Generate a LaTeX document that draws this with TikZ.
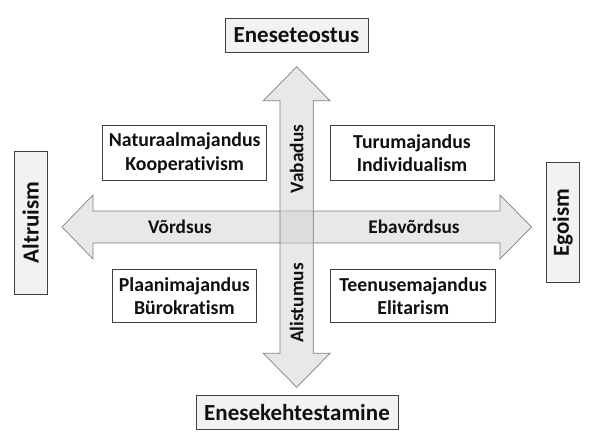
\documentclass[tikz,border=0pt]{standalone}
\usepackage{fontspec}
\setmainfont{Carlito}[Ligatures=NoCommon]
\definecolor{boxbg}{HTML}{F2F2F2}
\definecolor{boxline}{HTML}{404040}
\definecolor{arrfill}{HTML}{E8E8E8}
\definecolor{arrfillv}{HTML}{CFCFCF}
\definecolor{arrline}{HTML}{7F7F7F}
\definecolor{txt}{HTML}{101010}
\begin{document}
\begin{tikzpicture}[x=1pt,y=-1pt,
  outerbox/.style={draw=boxline, line width=0.9pt, fill=boxbg, inner sep=0pt,
    font=\bfseries\fontsize{23}{27}\selectfont, text=txt},
  quadbox/.style={draw=boxline, line width=0.9pt, fill=white, inner sep=0pt,
    align=center, font=\bfseries\fontsize{19.8}{23.4}\selectfont, text=txt},
  axislabel/.style={inner sep=0pt, font=\bfseries\fontsize{19.3}{23}\selectfont, text=txt},
  harrow/.style={draw=arrline, line width=0.7pt, fill=arrfill, line join=miter},
  varrow/.style={draw=arrline, line width=0.7pt, fill=arrfillv, fill opacity=0.48, line join=miter}]
\useasboundingbox (0,0) rectangle (593,445);

% horizontal double arrow
\draw[harrow] (62,227) -- (93,195) -- (93,211) -- (500,211) -- (500,195) -- (531.5,227)
  -- (500,259) -- (500,243) -- (93,243) -- (93,259) -- cycle;
% vertical double arrow
\draw[varrow] (296.7,66.7) -- (330,100.7) -- (313.3,100.7) -- (313.3,353.3) -- (330,353.3)
  -- (296.7,387.3) -- (263.3,353.3) -- (280,353.3) -- (280,100.7) -- (263.3,100.7) -- cycle;

% axis labels
\node[axislabel, rotate=90] (vabadus) at (296.7,159) {Vabadus};
\node[axislabel, rotate=90] (alistumus) at (296.7,303) {Alistumus};
\node[axislabel] (vordsus) at (180,227) {Võrdsus};
\node[axislabel] (ebavordsus) at (414,227) {Ebavõrdsus};

% outer boxes
\node[outerbox, minimum width=143pt, minimum height=34pt] (top) at (296.5,35) {Eneseteostus};
\node[outerbox, minimum width=202pt, minimum height=33.5pt] (bottom) at (297,412.5) {Enesekehtestamine};
\node[outerbox, rotate=90, minimum width=143pt, minimum height=33.3pt] (left) at (30.7,222.5) {Altruism};
\node[outerbox, rotate=90, minimum width=119.6pt, minimum height=33.3pt] (right) at (562.7,222.5) {Egoism};

% quadrant boxes
\node[quadbox, minimum width=164pt, minimum height=55pt] (nw) at (184.7,153.2) {Naturaalmajandus\\Kooperativism};
\node[quadbox, minimum width=164pt, minimum height=55pt] (ne) at (412,153.2) {Turumajandus\\Individualism};
\node[quadbox, minimum width=143.3pt, minimum height=53.4pt] (sw) at (184.35,296) {Plaanimajandus\\Bürokratism};
\node[quadbox, minimum width=165pt, minimum height=53.4pt] (se) at (413.2,296) {Teenusemajandus\\Elitarism};
\end{tikzpicture}
\end{document}
